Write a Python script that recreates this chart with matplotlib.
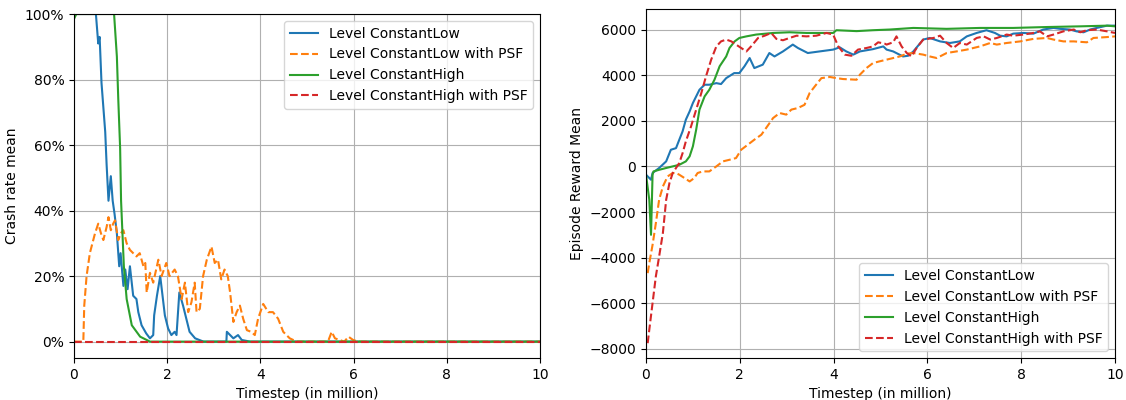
import matplotlib
matplotlib.use("Agg")
import matplotlib.pyplot as plt
from matplotlib.ticker import PercentFormatter

labels = ["Level ConstantLow", "Level ConstantLow with PSF",
          "Level ConstantHigh", "Level ConstantHigh with PSF"]
colors = ["#1f77b4", "#ff7f0e", "#2ca02c", "#d62728"]
styles = ["-", "--", "-", "--"]

# ---- Crash rate (left) ----
crash_low_t = [0, 0.47, 0.52, 0.55, 0.59, 0.67, 0.70, 0.74, 0.79, 0.83, 0.87, 0.92, 0.97, 1.0, 1.06,
               1.1, 1.15, 1.2, 1.27, 1.34, 1.38, 1.45, 1.55, 1.63, 1.7, 1.72, 1.78, 1.85, 1.95, 2.02, 2.09,
               2.16, 2.2, 2.26, 2.34, 2.48, 2.6, 2.78, 3.27, 3.28, 3.42, 3.52, 3.6, 3.78, 10]
crash_low_v = [1.0, 1.0, 0.91, 0.93, 0.79, 0.64, 0.54, 0.43, 0.505, 0.43, 0.39, 0.33, 0.23, 0.27, 0.17,
               0.22, 0.16, 0.23, 0.14, 0.13, 0.09, 0.05, 0.025, 0.01, 0.02, 0.08, 0.14, 0.20, 0.08, 0.04, 0.02,
               0.03, 0.02, 0.15, 0.11, 0.03, 0.01, 0.0, 0.0, 0.03, 0.01, 0.02, 0.005, 0.0, 0.0]

crash_low_psf_t = [0, 0.2, 0.22, 0.27, 0.34, 0.45, 0.52, 0.58, 0.63, 0.7, 0.74, 0.79, 0.84, 0.88, 0.95,
                   1.0, 1.06, 1.13, 1.2, 1.27, 1.34, 1.41, 1.49, 1.53, 1.56, 1.63, 1.7, 1.81, 1.88, 1.98,
                   2.05, 2.16, 2.23, 2.31, 2.38, 2.45, 2.52, 2.59, 2.63, 2.7, 2.77, 2.85, 2.95, 3.02, 3.09,
                   3.16, 3.23, 3.3, 3.35, 3.42, 3.49, 3.56, 3.63, 3.71, 3.8, 3.88, 3.95, 4.06, 4.17, 4.27,
                   4.38, 4.49, 4.63, 4.78, 5.45, 5.53, 5.6, 5.8, 5.89, 5.99, 6.1, 10]
crash_low_psf_v = [0.0, 0.0, 0.11, 0.20, 0.27, 0.33, 0.36, 0.33, 0.31, 0.35, 0.38, 0.34, 0.36, 0.37, 0.31,
                   0.33, 0.34, 0.30, 0.28, 0.27, 0.26, 0.27, 0.23, 0.24, 0.15, 0.21, 0.18, 0.25, 0.20, 0.24,
                   0.20, 0.22, 0.20, 0.13, 0.18, 0.09, 0.12, 0.18, 0.09, 0.10, 0.20, 0.25, 0.29, 0.24, 0.25,
                   0.19, 0.22, 0.20, 0.15, 0.06, 0.09, 0.11, 0.07, 0.035, 0.03, 0.02, 0.07, 0.115, 0.09, 0.09,
                   0.07, 0.03, 0.01, 0.0, 0.0, 0.03, 0.01, 0.0, 0.015, 0.005, 0.0, 0.0]

crash_high_t = [0, 0.05, 0.1, 0.86, 0.92, 0.95, 0.99, 1.01, 1.04, 1.07, 1.13, 1.24, 1.42, 1.63, 10]
crash_high_v = [0.985, 1.0, 1.0, 1.0, 0.87, 0.74, 0.59, 0.43, 0.33, 0.23, 0.13, 0.05, 0.015, 0.0, 0.0]

crash_high_psf_t = [0, 10]
crash_high_psf_v = [0.0, 0.0]

# ---- Episode reward (right) ----
rew_low_t = [0, 0.107, 0.14, 0.28, 0.43, 0.53, 0.64, 0.71, 0.78, 0.85, 0.93, 1.0, 1.07, 1.14, 1.25,
             1.35, 1.5, 1.6, 1.71, 1.88, 1.99, 2.1, 2.21, 2.31, 2.49, 2.63, 2.74, 2.92, 3.13, 3.24,
             3.45, 3.7, 3.99, 4.13, 4.27, 4.42, 4.56, 4.84, 5.06, 5.13, 5.27, 5.48, 5.59, 5.7, 5.91,
             6.05, 6.27, 6.48, 6.69, 6.84, 7.05, 7.26, 7.44, 7.55, 7.69, 7.83, 8.05, 8.26, 8.47,
             8.69, 8.83, 9.04, 9.18, 9.33, 9.47, 9.61, 9.83, 10]
rew_low_v = [-365, -585, -290, -70, 220, 730, 800, 1170, 1535, 2050, 2410, 2780, 3070, 3360, 3580,
             3580, 3650, 3610, 3870, 4090, 4090, 4390, 4750, 4310, 4460, 4970, 4820, 5040, 5340, 5190,
             4970, 5040, 5120, 5220, 5040, 4900, 5040, 5140, 5260, 5120, 5040, 4820, 4850, 5040, 5560,
             5630, 5480, 5410, 5480, 5700, 5850, 5970, 5850, 5730, 5700, 5820, 5850, 5820, 6000,
             6070, 6030, 6000, 5920, 5880, 6000, 6070, 6170, 6170]

rew_low_psf_t = [0.036, 0.07, 0.14, 0.21, 0.28, 0.36, 0.46, 0.57, 0.64, 0.71, 0.82, 0.93, 1.03, 1.1,
                 1.21, 1.35, 1.5, 1.64, 1.78, 1.92, 2.03, 2.17, 2.31, 2.46, 2.56, 2.71, 2.85, 2.99, 3.1,
                 3.24, 3.38, 3.49, 3.6, 3.74, 3.92, 4.06, 4.2, 4.49, 4.56, 4.7, 4.84, 4.99, 5.13, 5.27,
                 5.41, 5.56, 5.7, 5.91, 6.05, 6.2, 6.41, 6.62, 6.84, 7.12, 7.34, 7.48, 7.69, 7.98, 8.26,
                 8.55, 8.69, 8.9, 9.12, 9.4, 9.54, 9.83, 10]
rew_low_psf_v = [-4680, -4240, -3440, -2490, -1460, -880, -440, -290, -290, -365, -510, -660, -510, -290,
                 -220, -220, 0, 220, 290, 365, 730, 950, 1170, 1390, 1680, 2120, 2340, 2270, 2490,
                 2560, 2700, 3220, 3510, 3870, 3920, 3870, 3830, 3800, 4020, 4310, 4530, 4610, 4680, 4750,
                 4820, 4940, 4970, 4900, 4820, 4750, 4970, 5040, 5120, 5260, 5410, 5340, 5410, 5480, 5590,
                 5630, 5560, 5480, 5480, 5440, 5630, 5670, 5700]

rew_high_t = [0, 0.07, 0.107, 0.14, 0.16, 0.28, 0.43, 0.57, 0.71, 0.85, 0.93, 1.0, 1.07, 1.14, 1.25,
              1.35, 1.46, 1.57, 1.71, 1.78, 1.89, 1.99, 2.14, 2.35, 2.71, 3.06, 3.42, 3.77, 3.99, 4.06,
              4.49, 4.84, 5.2, 5.7, 6.41, 7.12, 7.83, 8.55, 9.26, 9.83, 10]
rew_high_v = [-365, -1460, -3000, -365, -220, -150, -70, 0, 70, 220, 440, 880, 1610, 2490, 3070,
              3360, 3800, 4390, 4820, 5190, 5480, 5630, 5700, 5780, 5850, 5880, 5850, 5850, 5850, 5970,
              5930, 5970, 6000, 6070, 6030, 6070, 6070, 6110, 6140, 6170, 6140]

rew_high_psf_t = [0.036, 0.07, 0.14, 0.21, 0.28, 0.36, 0.43, 0.5, 0.57, 0.64, 0.71, 0.78, 0.85, 0.96,
                  1.07, 1.18, 1.28, 1.39, 1.5, 1.6, 1.71, 1.82, 1.92, 2.03, 2.14, 2.24, 2.39, 2.53, 2.67,
                  2.78, 2.92, 3.06, 3.21, 3.42, 3.63, 3.85, 3.99, 4.1, 4.24, 4.38, 4.52, 4.7, 4.84, 4.95,
                  5.09, 5.13, 5.27, 5.34, 5.45, 5.56, 5.66, 5.77, 5.91, 6.13, 6.27, 6.41, 6.55, 6.69,
                  6.84, 7.05, 7.2, 7.34, 7.48, 7.69, 7.83, 8.05, 8.26, 8.4, 8.55, 8.69, 8.9, 9.12, 9.26,
                  9.4, 9.61, 9.83, 10]
rew_high_psf_v = [-7750, -7160, -5990, -4820, -3950, -2920, -1460, -730, -290, -70, 150, 580, 1100, 1750,
                  2490, 3220, 3950, 4680, 5260, 5480, 5560, 5480, 5340, 5190, 5040, 5260, 5630, 5730, 5850,
                  5590, 5530, 5630, 5730, 5700, 5730, 5850, 5780, 5260, 4900, 4850, 5120, 5190, 5260, 5440,
                  5380, 5340, 5440, 5700, 5260, 4970, 4820, 5190, 5560, 5630, 5730, 5410, 5190, 5410,
                  5340, 5630, 5700, 5560, 5630, 5780, 5730, 5780, 5850, 5920, 5700, 5780, 5920, 6000, 5880,
                  5970, 6000, 5920, 5850]

crash_series = [(crash_low_t, crash_low_v), (crash_low_psf_t, crash_low_psf_v),
                (crash_high_t, crash_high_v), (crash_high_psf_t, crash_high_psf_v)]
reward_series = [(rew_low_t, rew_low_v), (rew_low_psf_t, rew_low_psf_v),
                 (rew_high_t, rew_high_v), (rew_high_psf_t, rew_high_psf_v)]

fig = plt.figure(figsize=(11.26, 4.0), dpi=100)
ax1 = fig.add_axes([74 / 1126, 1 - 358 / 400, 466 / 1126, 344 / 400])
ax2 = fig.add_axes([646 / 1126, 1 - 358 / 400, 469 / 1126, 349 / 400])

for (t, v), lab, c, ls in zip(crash_series, labels, colors, styles):
    ax1.plot(t, v, color=c, linestyle=ls, label=lab, linewidth=1.5)
ax1.set_xlim(0, 10)
ax1.set_ylim(-0.05, 1.0)
ax1.yaxis.set_major_formatter(PercentFormatter(1.0, decimals=0))
ax1.set_xlabel("Timestep (in million)")
ax1.set_ylabel("Crash rate mean")
ax1.grid(True)
ax1.legend(loc="upper right")

for (t, v), lab, c, ls in zip(reward_series, labels, colors, styles):
    ax2.plot(t, v, color=c, linestyle=ls, label=lab, linewidth=1.5)
ax2.set_xlim(0, 10)
ax2.set_ylim(-8400, 6900)
ax2.set_xlabel("Timestep (in million)")
ax2.set_ylabel("Episode Reward Mean")
ax2.grid(True)
ax2.legend(loc="lower right")

fig.savefig("out.png", dpi=100)
